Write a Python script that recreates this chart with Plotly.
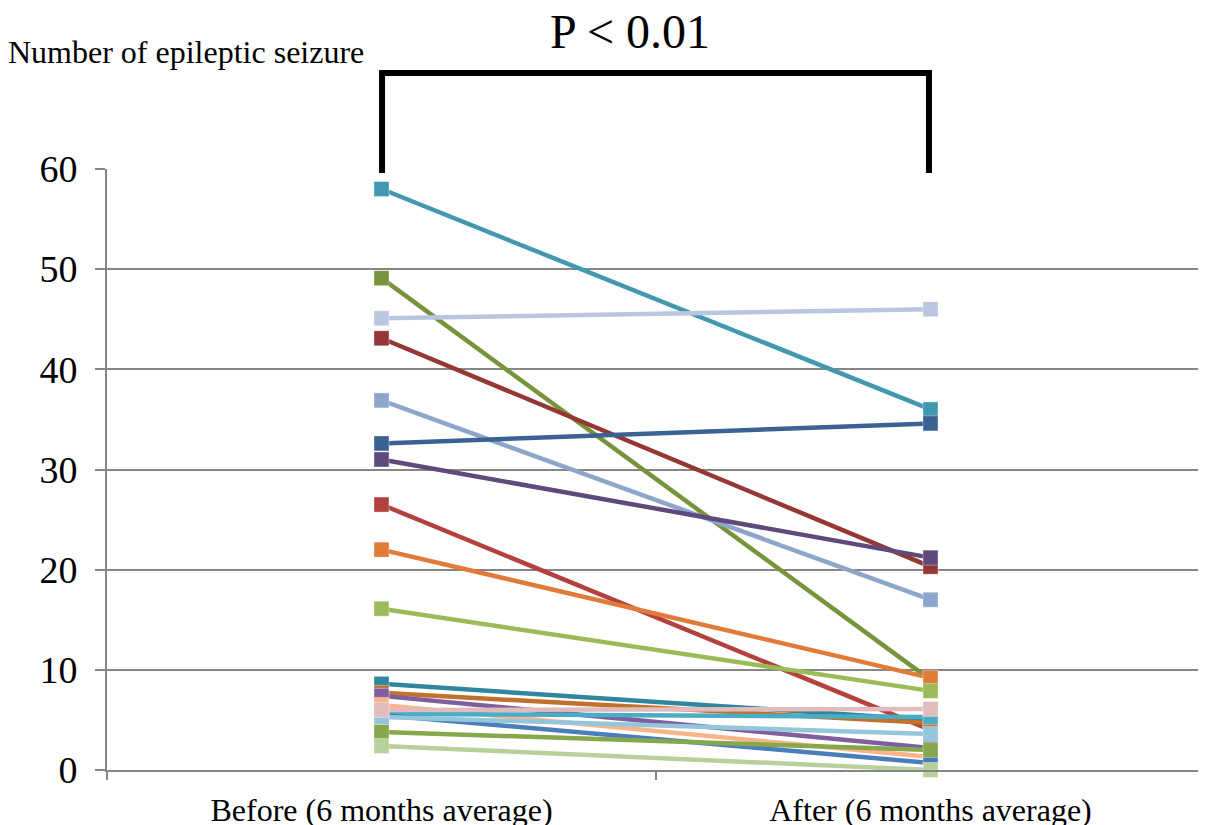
import plotly.graph_objects as go

categories = ["Before (6 months average)", "After (6 months average)"]

before = [58.0, 49.1, 45.1, 43.1, 36.9, 32.6, 31.0, 26.5, 22.0, 16.1,
          8.6, 7.7, 7.4, 6.5, 5.6, 5.5, 5.3, 6.0, 3.8, 2.4]
after = [36.0, 9.0, 46.0, 20.3, 17.0, 34.6, 21.2, 4.0, 9.2, 7.9,
         5.0, 4.7, 2.2, 1.3, 5.3, 0.7, 3.6, 6.1, 2.0, 0.0]
colors = ["#4298B0", "#77933C", "#B9C6E0", "#953735", "#8EA5CB",
          "#3A6293", "#5F4A7B", "#B3423F", "#E07B39", "#9BBB59",
          "#31859C", "#C0712B", "#7E5E9D", "#F9B58A", "#4BACC6",
          "#4A7EBB", "#93C6DA", "#E2BCBC", "#86A84A", "#B8D09A"]

y_ticks = [0, 10, 20, 30, 40, 50, 60]

fig = go.Figure()
for b, a, c in zip(before, after, colors):
    fig.add_trace(go.Scatter(
        x=categories, y=[b, a], mode="lines+markers",
        line=dict(color=c, width=4.5),
        marker=dict(symbol="square", size=15, color=c,
                    line=dict(color="rgba(255,255,255,0.35)", width=1)),
        showlegend=False, cliponaxis=False,
    ))

gray = "#868686"
fig.update_layout(
    width=1198, height=817,
    margin=dict(l=99, r=1, t=161, b=55),
    plot_bgcolor="white", paper_bgcolor="white",
    font=dict(family="Liberation Serif, Times New Roman, serif", color="black"),
    xaxis=dict(type="category", tickson="boundaries", showgrid=False,
               range=[-0.5, 1.5], automargin=False,
               showline=True, linecolor=gray, linewidth=2,
               ticks="outside", ticklen=8, tickcolor=gray, tickwidth=2,
               tickfont=dict(size=32), ticklabelstandoff=11),
    yaxis=dict(range=[0, 60], tickvals=y_ticks, showgrid=True, automargin=False,
               gridcolor=gray, gridwidth=2, zeroline=False,
               showline=True, linecolor=gray, linewidth=2,
               ticks="outside", ticklen=10, tickcolor=gray, tickwidth=2,
               tickfont=dict(size=38), ticklabelstandoff=10),
)

# significance bracket
fig.add_shape(type="path", xref="paper", yref="paper",
              path="M 0.2505,0.9933 L 0.2505,1.1597 L 0.7486,1.1597 L 0.7486,0.9933",
              line=dict(color="black", width=6))

fig.add_annotation(text="P &lt; 0.01", xref="paper", yref="paper",
                   x=0.476, y=1.228, xanchor="center", yanchor="middle",
                   showarrow=False, font=dict(size=48, color="black"))
fig.add_annotation(text="Number of epileptic seizure", xref="paper", yref="paper",
                   x=-0.092, y=1.1947, xanchor="left", yanchor="middle",
                   showarrow=False, font=dict(size=32, color="black"))

fig.write_html("out.html")
